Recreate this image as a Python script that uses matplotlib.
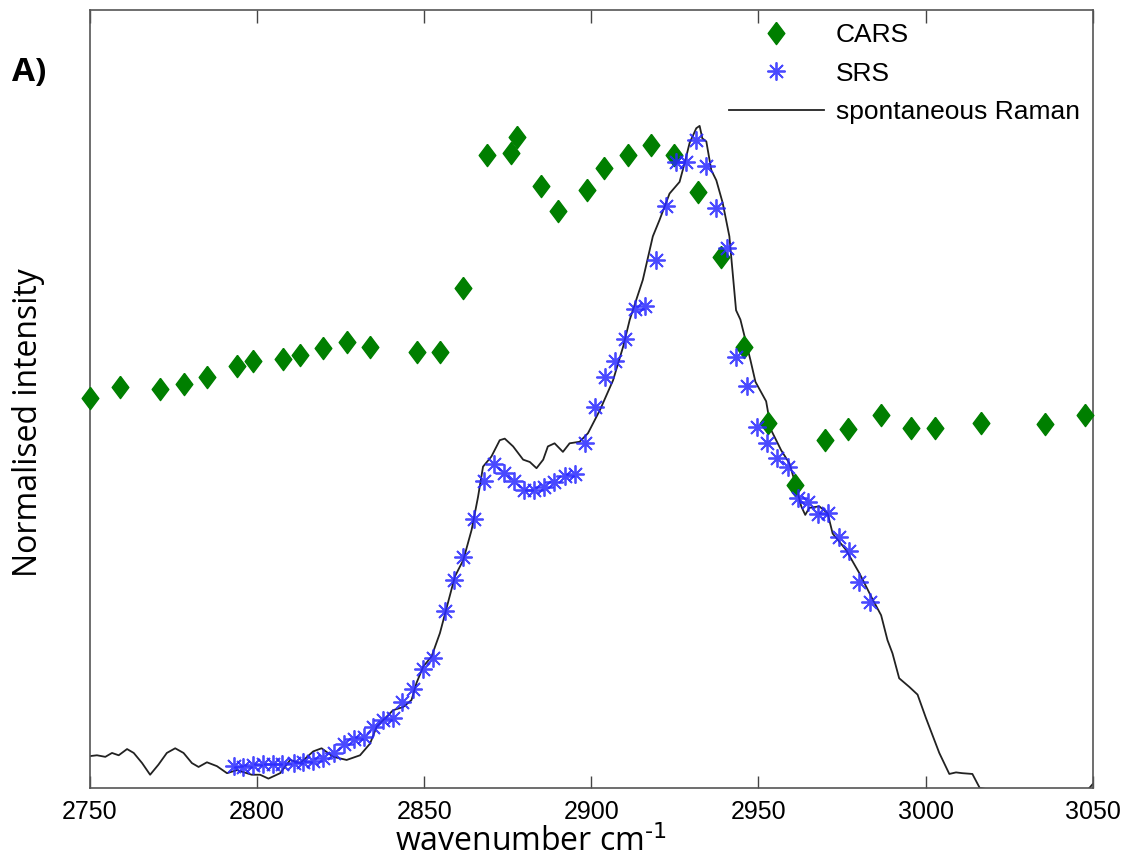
import numpy as np
import matplotlib
matplotlib.use('Agg')
import matplotlib.pyplot as plt

# CARS (green diamonds)
cars_x = [2750.0, 2759.1, 2771.0, 2778.0, 2785.0, 2794.0, 2798.9, 2807.9, 2812.9, 2819.8,
          2826.8, 2833.8, 2847.7, 2854.7, 2861.7, 2868.8, 2875.9, 2877.9, 2884.8, 2889.9,
          2898.8, 2903.8, 2910.9, 2917.8, 2924.8, 2931.8, 2938.9, 2945.7, 2952.9, 2960.8,
          2969.8, 2976.8, 2986.8, 2995.7, 3002.7, 3016.7, 3035.7, 3047.6]
cars_y = [0.501, 0.516, 0.513, 0.519, 0.528, 0.542, 0.549, 0.551, 0.557, 0.565,
          0.573, 0.567, 0.561, 0.560, 0.643, 0.814, 0.816, 0.837, 0.774, 0.742,
          0.769, 0.797, 0.813, 0.827, 0.814, 0.766, 0.682, 0.567, 0.469, 0.389,
          0.447, 0.461, 0.479, 0.463, 0.463, 0.469, 0.468, 0.479]

# SRS (blue asterisks)
srs_x = [2793.0, 2795.9, 2798.7, 2801.7, 2804.9, 2807.4, 2810.9, 2813.7, 2816.8, 2819.6,
         2823.0, 2826.0, 2829.0, 2832.0, 2834.8, 2837.6, 2840.7, 2843.5, 2846.7, 2849.7,
         2852.7, 2856.2, 2858.9, 2861.7, 2864.9, 2867.8, 2870.9, 2873.9, 2876.9, 2879.9,
         2882.8, 2885.8, 2888.8, 2892.0, 2895.0, 2898.0, 2901.1, 2904.1, 2907.2, 2910.0,
         2913.2, 2916.2, 2919.4, 2922.2, 2925.2, 2928.4, 2931.4, 2934.4, 2937.4, 2940.5,
         2943.3, 2946.6, 2949.6, 2952.6, 2955.6, 2958.8, 2961.7, 2964.7, 2967.9, 2970.9,
         2974.0, 2977.2, 2980.2, 2983.4]
srs_y = [0.028, 0.027, 0.029, 0.031, 0.031, 0.031, 0.032, 0.033, 0.035, 0.038,
         0.045, 0.056, 0.063, 0.066, 0.078, 0.087, 0.090, 0.110, 0.127, 0.153,
         0.167, 0.228, 0.267, 0.297, 0.346, 0.395, 0.417, 0.405, 0.395, 0.383,
         0.383, 0.387, 0.393, 0.401, 0.403, 0.444, 0.490, 0.528, 0.549, 0.577,
         0.615, 0.619, 0.678, 0.748, 0.804, 0.804, 0.833, 0.799, 0.746, 0.694,
         0.554, 0.517, 0.464, 0.444, 0.424, 0.413, 0.373, 0.368, 0.352, 0.354,
         0.322, 0.305, 0.265, 0.239]

# spontaneous Raman (black line)
raman_x = [2750.1, 2752.1, 2754.6, 2756.6, 2758.6, 2761.1, 2763.1, 2765.6, 2768.0, 2770.5,
           2773.0, 2775.5, 2778.0, 2780.5, 2782.5, 2785.0, 2788.0, 2791.0, 2794.0, 2798.4,
           2800.9, 2803.4, 2806.9, 2809.9, 2812.9, 2816.8, 2819.3, 2822.8, 2826.8, 2830.8,
           2833.8, 2835.8, 2840.7, 2843.7, 2846.2, 2847.7, 2849.7, 2852.2, 2854.7, 2859.2,
           2861.7, 2864.2, 2866.1, 2867.6, 2870.1, 2872.6, 2874.1, 2876.6, 2879.6, 2881.6,
           2883.6, 2885.6, 2887.0, 2889.0, 2891.5, 2893.5, 2896.5, 2899.0, 2902.6, 2906.5,
           2909.5, 2911.5, 2915.4, 2918.4, 2920.4, 2923.4, 2926.4, 2927.9, 2929.4, 2931.4,
           2932.4, 2933.2, 2934.4, 2935.9, 2937.4, 2939.3, 2941.3, 2943.3, 2944.6, 2946.1,
           2947.6, 2949.1, 2952.3, 2953.8, 2956.8, 2959.3, 2961.3, 2962.8, 2964.0, 2965.2,
           2968.2, 2970.7, 2972.2, 2976.2, 2980.2, 2984.2, 2986.7, 2988.6, 2990.1, 2992.1,
           2995.1, 2997.6, 3000.1, 3004.1, 3007.1, 3009.1, 3011.0, 3014.0, 3016.2, 3030.0,
           3048.0, 3050.0]
raman_y = [0.041, 0.042, 0.040, 0.045, 0.042, 0.050, 0.045, 0.032, 0.017, 0.030,
           0.045, 0.051, 0.045, 0.032, 0.027, 0.033, 0.028, 0.019, 0.023, 0.017,
           0.017, 0.012, 0.019, 0.036, 0.032, 0.047, 0.051, 0.040, 0.036, 0.042,
           0.057, 0.079, 0.100, 0.104, 0.113, 0.135, 0.156, 0.169, 0.199, 0.272,
           0.293, 0.332, 0.374, 0.413, 0.426, 0.447, 0.449, 0.439, 0.422, 0.419,
           0.411, 0.422, 0.439, 0.443, 0.432, 0.443, 0.445, 0.456, 0.486, 0.524,
           0.567, 0.602, 0.653, 0.709, 0.730, 0.764, 0.779, 0.803, 0.829, 0.848,
           0.851, 0.835, 0.831, 0.794, 0.781, 0.752, 0.709, 0.614, 0.602, 0.576,
           0.550, 0.522, 0.497, 0.460, 0.434, 0.417, 0.387, 0.362, 0.351, 0.360,
           0.362, 0.353, 0.327, 0.306, 0.276, 0.242, 0.222, 0.190, 0.173, 0.141,
           0.130, 0.120, 0.090, 0.045, 0.018, 0.020, 0.019, 0.018, 0.000, -0.010,
           -0.005, 0.005]

xticks = [2750, 2800, 2850, 2900, 2950, 3000, 3050]

plt.rcParams['font.family'] = ['Liberation Sans', 'DejaVu Sans']
plt.rcParams['mathtext.default'] = 'regular'

fig = plt.figure(figsize=(11.3, 8.59), dpi=100)
ax = fig.add_axes([0.0796, 0.0827, 0.8874, 0.9057])

diamond = [(0, 1), (0.75, 0), (0, -1), (-0.75, 0), (0, 1)]

ax.plot(cars_x, cars_y, linestyle='none', marker=diamond, markersize=16,
        color='#007f00', markeredgecolor='#007f00', label='CARS', clip_on=False, zorder=3)
ax.plot(srs_x, srs_y, linestyle='none', marker=(8, 2, 0), markersize=13,
        markeredgewidth=1.3, color='#2a2aff', alpha=0.85, label='SRS', zorder=4)
ax.plot(raman_x, raman_y, color='#222222', linewidth=1.3, label='spontaneous Raman', zorder=2)

ax.set_xlim(2750, 3050)
ax.set_ylim(0, 1)
ax.set_xticks(xticks)
ax.set_yticks([])
ax.tick_params(axis='x', direction='in', length=9, width=1, top=True, labelsize=18,
               color='#444444', pad=9)
for s in ax.spines.values():
    s.set_color('#555555')
    s.set_linewidth(1.2)

ax.set_xlabel('wavenumber cm$^{\\text{-1}}$', fontsize=23, family=['Open Sans', 'DejaVu Sans'])
ax.xaxis.set_label_coords(0.44, -0.049)
ax.set_ylabel('Normalised intensity', fontsize=23, family=['Open Sans', 'DejaVu Sans'])
ax.yaxis.set_label_coords(-0.045, 0.47)

fig.text(0.011, 0.916, 'A)', fontsize=24, fontweight='bold', va='center',
         family=['Open Sans', 'DejaVu Sans'])

ax.legend(loc='upper right', bbox_to_anchor=(1.0, 1.0), frameon=False, fontsize=19,
          handlelength=3.6, handletextpad=0.45, labelspacing=0.55, borderaxespad=0.1)

fig.savefig('out.png', dpi=100)
